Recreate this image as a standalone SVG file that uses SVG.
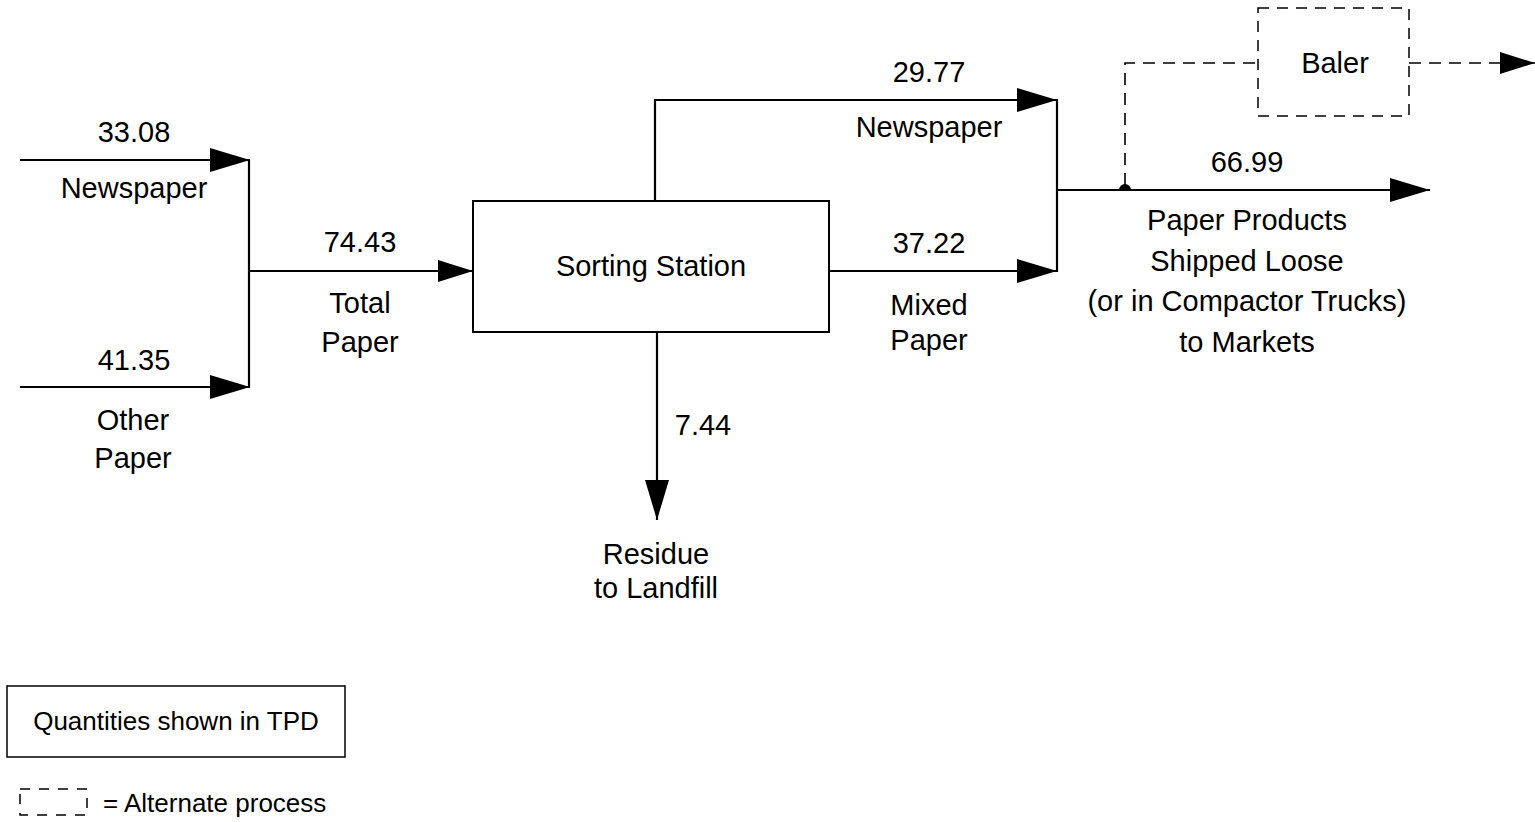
<svg xmlns="http://www.w3.org/2000/svg" width="1535" height="822" viewBox="0 0 1535 822">
<style>
text{font-family:"Liberation Sans",Arial,sans-serif;font-size:29px;fill:#000;text-anchor:middle}
.ln{stroke:#000;stroke-width:2.2;fill:none}
.ds{stroke:#000;stroke-width:1.6;fill:none;stroke-dasharray:12 8}
.box{stroke:#000;stroke-width:2;fill:#fff}
.dbox{stroke:#000;stroke-width:1.5;fill:none;stroke-dasharray:11 8}
</style>
<defs>
<marker id="ah" markerUnits="userSpaceOnUse" markerWidth="42" markerHeight="26" refX="40" refY="12" orient="auto" viewBox="0 0 42 26">
<path d="M0,0 L40,12 L0,24 Z" fill="#000"/>
</marker>
<marker id="ahs" markerUnits="userSpaceOnUse" markerWidth="38" markerHeight="24" refX="35" refY="11" orient="auto" viewBox="0 0 38 24">
<path d="M0,0 L35,11 L0,22 Z" fill="#000"/>
</marker>
</defs>
<g id="connectors">
<line class="ln" x1="20" y1="160" x2="250" y2="160" marker-end="url(#ah)"/>
<line class="ln" x1="20" y1="387" x2="250" y2="387" marker-end="url(#ah)"/>
<line class="ln" x1="249" y1="159" x2="249" y2="388"/>
<line class="ln" x1="250" y1="271" x2="473" y2="271" marker-end="url(#ahs)"/>
<polyline class="ln" points="655,201 655,100 1057,100" marker-end="url(#ah)"/>
<line class="ln" x1="829" y1="271" x2="1057" y2="271" marker-end="url(#ah)"/>
<line class="ln" x1="1057" y1="99" x2="1057" y2="272"/>
<line class="ln" x1="1057" y1="190" x2="1430" y2="190" marker-end="url(#ah)"/>
<path d="M1119,190 A6,6 0 0 1 1131,190 Z" fill="#000"/>
<polyline class="ds" points="1125,185 1125,63 1258,63"/>
<line class="ds" x1="1409" y1="63" x2="1535" y2="63" marker-end="url(#ahs)"/>
<line class="ln" x1="657" y1="332" x2="657" y2="520" marker-end="url(#ah)"/>
</g>
<g id="newspaper-in">
<text x="134" y="142">33.08</text>
<text x="134" y="198">Newspaper</text>
</g>
<g id="other-paper-in">
<text x="134" y="370">41.35</text>
<text x="133" y="430">Other</text>
<text x="133" y="468">Paper</text>
</g>
<g id="total-paper">
<text x="360" y="252">74.43</text>
<text x="360" y="313">Total</text>
<text x="360" y="352">Paper</text>
</g>
<g id="sorting-station">
<rect class="box" x="473" y="201" width="356" height="131"/>
<text x="651" y="276">Sorting Station</text>
</g>
<g id="newspaper-out">
<text x="929" y="82">29.77</text>
<text x="929" y="137">Newspaper</text>
</g>
<g id="mixed-paper">
<text x="929" y="253">37.22</text>
<text x="929" y="315">Mixed</text>
<text x="929" y="350">Paper</text>
</g>
<g id="residue">
<text x="703" y="435">7.44</text>
<text x="656" y="564">Residue</text>
<text x="656" y="598">to Landfill</text>
</g>
<g id="baler">
<rect class="dbox" x="1258" y="8" width="151" height="108"/>
<text x="1335" y="73">Baler</text>
</g>
<g id="markets">
<text x="1247" y="172">66.99</text>
<text x="1247" y="230">Paper Products</text>
<text x="1247" y="271">Shipped Loose</text>
<text x="1247" y="311">(or in Compactor Trucks)</text>
<text x="1247" y="352">to Markets</text>
</g>
<g id="legend">
<rect x="7" y="686" width="338" height="71" fill="none" stroke="#000" stroke-width="1.5"/>
<text x="176" y="730" style="font-size:26px">Quantities shown in TPD</text>
<rect class="dbox" x="20" y="789" width="67" height="26" style="stroke-dasharray:10 9"/>
<text x="103" y="812" style="font-size:26px;text-anchor:start">= Alternate process</text>
</g>
</svg>
